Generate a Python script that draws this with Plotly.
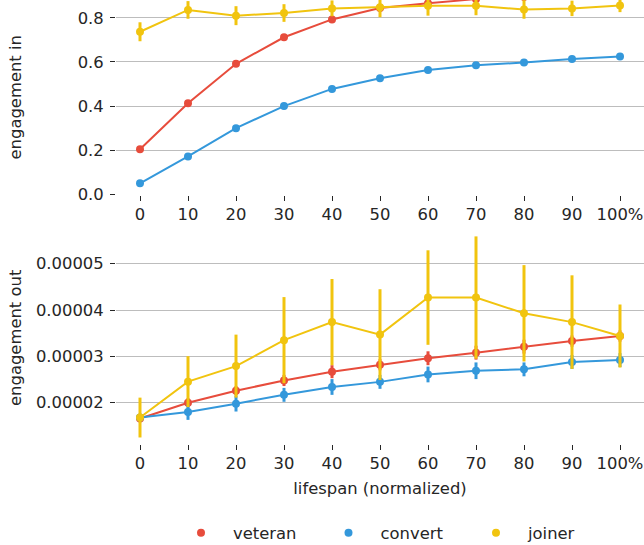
import plotly.graph_objects as go
from plotly.subplots import make_subplots

# ---- data ----
positions = list(range(11))
tick_labels = ["0", "10", "20", "30", "40", "50", "60", "70", "80", "90", "100%"]
series_names = ["veteran", "convert", "joiner"]
series_colors = ["#e74c3c", "#3498db", "#f1c40f"]

# engagement in
veteran_in = [0.204, 0.413, 0.592, 0.712, 0.793, 0.845, 0.866, 0.885, 0.895, 0.905, 0.915]
veteran_in_err = [0.01, 0.012, 0.012, 0.01, 0.01, 0.01, 0.01, 0.01, 0.01, 0.01, 0.01]
convert_in = [0.050, 0.172, 0.300, 0.400, 0.478, 0.526, 0.564, 0.585, 0.598, 0.614, 0.625]
convert_in_err = [0.008, 0.012, 0.014, 0.014, 0.013, 0.012, 0.012, 0.012, 0.011, 0.011, 0.010]
joiner_in = [0.737, 0.836, 0.810, 0.822, 0.843, 0.848, 0.855, 0.855, 0.838, 0.843, 0.856]
joiner_in_err = [0.043, 0.040, 0.043, 0.040, 0.036, 0.045, 0.045, 0.043, 0.042, 0.035, 0.030]

# engagement out (units of 1e-5)
veteran_out = [1.66, 2.00, 2.26, 2.48, 2.67, 2.82, 2.96, 3.08, 3.21, 3.33, 3.44]
veteran_out_err = [0.08, 0.10, 0.10, 0.12, 0.14, 0.12, 0.15, 0.15, 0.15, 0.12, 0.12]
convert_out = [1.68, 1.80, 1.98, 2.17, 2.34, 2.45, 2.61, 2.69, 2.72, 2.88, 2.92]
convert_out_err = [0.08, 0.17, 0.17, 0.15, 0.17, 0.15, 0.17, 0.18, 0.15, 0.15, 0.15]
joiner_out = [1.68, 2.455, 2.79, 3.35, 3.74, 3.47, 4.27, 4.27, 3.93, 3.74, 3.44]
joiner_out_err = [0.43, 0.55, 0.68, 0.93, 0.93, 0.98, 1.02, 1.32, 1.04, 1.01, 0.68]
out_scale = 1e-5

ins = [(veteran_in, veteran_in_err), (convert_in, convert_in_err), (joiner_in, joiner_in_err)]
outs = [(veteran_out, veteran_out_err), (convert_out, convert_out_err), (joiner_out, joiner_out_err)]

FONT = "DejaVu Sans"
TXT = "#262626"
GRID = "#bdbdbd"
FS = 16.4

fig = make_subplots(rows=2, cols=1, shared_xaxes=False)

for i, name in enumerate(series_names):
    c = series_colors[i]
    for row, (vals, errs, scale) in ((1, (*ins[i], 1.0)), (2, (*outs[i], out_scale))):
        yv = [a * scale for a in vals]
        ye = [a * scale for a in errs]
        fig.add_trace(go.Scatter(
            x=positions, y=yv, mode="lines", legendgroup=name, name=name,
            line=dict(color=c, width=2), showlegend=False, hoverinfo="skip"), row=row, col=1)
        fig.add_trace(go.Scatter(
            x=positions, y=yv, mode="markers", name=name, legendgroup=name,
            marker=dict(color=c, size=8),
            error_y=dict(type="data", array=ye, color=c, thickness=3, width=0),
            showlegend=(row == 1)), row=row, col=1)

H = 444.0
axis_common = dict(
    tickmode="array", tickvals=positions, ticktext=tick_labels,
    range=[-0.5, 10.5], showgrid=False, zeroline=False, showline=False,
    ticks="outside", ticklen=5, tickwidth=1, tickcolor=TXT, automargin=False,
    tickfont=dict(family=FONT, size=FS, color=TXT), ticklabelstandoff=-1,
)
fig.update_xaxes(**axis_common, row=1, col=1)
fig.update_xaxes(**axis_common, row=2, col=1,
                 title=dict(text="lifespan (normalized)", font=dict(family=FONT, size=FS, color=TXT), standoff=10))

y_common = dict(showgrid=True, gridcolor=GRID, gridwidth=1, zeroline=False, showline=False,
                ticks="outside", ticklen=5, tickwidth=1, tickcolor=TXT, automargin=False,
                tickfont=dict(family=FONT, size=FS, color=TXT), ticklabelstandoff=3)
fig.update_yaxes(**y_common, row=1, col=1, range=[-0.003, 0.881], tickvals=[0, 0.2, 0.4, 0.6, 0.8],
                 tickformat=".1f")
fig.update_yaxes(**y_common, row=2, col=1, range=[1.109e-5, 5.685e-5],
                 tickvals=[2e-5, 3e-5, 4e-5, 5e-5], tickformat=".5f")

fig.update_layout(
    width=644, height=545,
    margin=dict(l=116, r=0, t=0, b=101, autoexpand=False),
    plot_bgcolor="white", paper_bgcolor="white",
    font=dict(family=FONT, size=FS, color=TXT),
    xaxis=dict(domain=[0, 1]), xaxis2=dict(domain=[0, 1]),
    yaxis=dict(domain=[1 - 195 / H, 1]),
    yaxis2=dict(domain=[0, (H - 232) / H]),
    legend=dict(orientation="h", x=(169 - 116) / 528, xanchor="left",
                y=-(533 - H) / H, yanchor="middle",
                itemwidth=54, entrywidth=78.5, font=dict(family=FONT, size=FS, color=TXT),
                bgcolor="rgba(0,0,0,0)"),
    annotations=[
        dict(text="engagement in", xref="paper", yref="paper", x=(15 - 116) / 528,
             y=1 - 97.5 / H, xanchor="center", yanchor="middle", textangle=-90, showarrow=False,
             font=dict(family=FONT, size=FS, color=TXT)),
        dict(text="engagement out", xref="paper", yref="paper", x=(15 - 116) / 528,
             y=(H - 338) / H, xanchor="center", yanchor="middle", textangle=-90, showarrow=False,
             font=dict(family=FONT, size=FS, color=TXT)),
    ],
)

fig.write_html("out.html", config={"displayModeBar": False},
               post_script="document.body.style.margin='0';")
